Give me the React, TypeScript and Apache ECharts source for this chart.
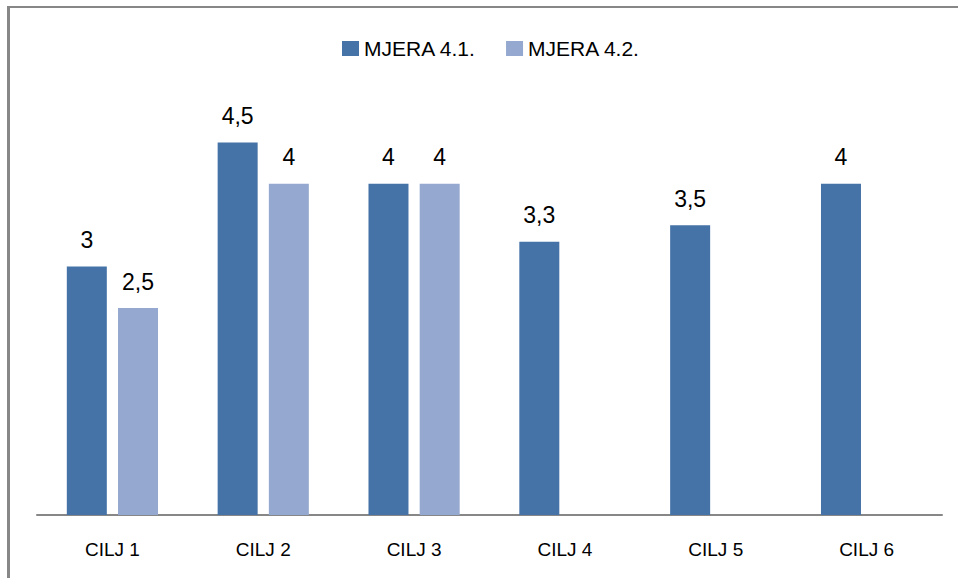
import React, { useEffect, useRef } from "react";
import * as echarts from "echarts";

const categories = ["CILJ 1", "CILJ 2", "CILJ 3", "CILJ 4", "CILJ 5", "CILJ 6"];
const seriesNames = ["MJERA 4.1.", "MJERA 4.2."];
const mjera41 = [3, 4.5, 4, 3.3, 3.5, 4];
const mjera42: (number | null)[] = [2.5, 4, 4, null, null, null];

export default function App() {
  const ref = useRef<HTMLDivElement>(null);
  useEffect(() => {
    document.body.style.margin = "0";
    const chart = echarts.init(ref.current!, undefined, { renderer: "svg" });
    const font = "Liberation Sans, Arial, sans-serif";
    const labelCfg = {
      show: true,
      position: "top" as const,
      distance: 15,
      color: "#000",
      fontSize: 23,
      fontFamily: font,
      formatter: (p: any) => String(p.value).replace(".", ","),
    };
    chart.setOption({
      animation: false,
      backgroundColor: "#fff",
      legend: {
        top: 33,
        left: 337,
        itemWidth: 17,
        itemHeight: 15,
        itemGap: 30,
        icon: "rect",
        textStyle: { fontSize: 21, color: "#000", fontFamily: font },
        data: seriesNames,
      },
      grid: { left: 37, right: 16, top: 101, bottom: 63 },
      xAxis: {
        type: "category",
        data: categories,
        axisTick: { show: false },
        axisLine: { lineStyle: { color: "#878787", width: 2 } },
        axisLabel: {
          margin: 25,
          fontSize: 19,
          color: "#000",
          fontFamily: font,
        },
      },
      yAxis: { type: "value", min: 0, max: 5, show: false, splitLine: { show: false } },
      series: [
        {
          name: seriesNames[0],
          type: "bar",
          data: mjera41,
          barWidth: 40,
          barGap: "28%",
          itemStyle: { color: "#4572A7" },
          label: labelCfg,
        },
        {
          name: seriesNames[1],
          type: "bar",
          data: mjera42,
          barWidth: 40,
          itemStyle: { color: "#95A9D0" },
          label: labelCfg,
        },
      ],
      graphic: [
        { type: "rect", shape: { x: 7, y: 6, width: 951, height: 2 }, style: { fill: "#878787" } },
        { type: "rect", shape: { x: 7, y: 6, width: 3, height: 572 }, style: { fill: "#878787" } },
      ],
    });
    return () => chart.dispose();
  }, []);
  return <div ref={ref} style={{ position: "fixed", left: 0, top: 0, width: 958, height: 578 }} />;
}
